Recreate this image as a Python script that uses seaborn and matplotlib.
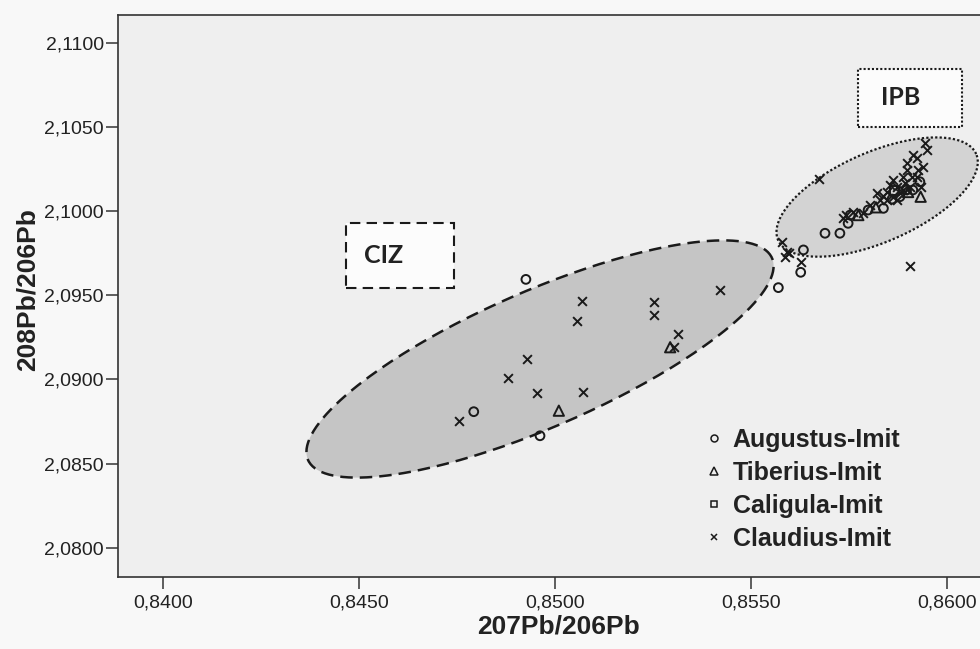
import numpy as np
import pandas as pd
import matplotlib
matplotlib.use("Agg")
import matplotlib.pyplot as plt
import seaborn as sns
from matplotlib import font_manager
from matplotlib.patches import Rectangle
from matplotlib.lines import Line2D

# ---------------- data ----------------
augustus_x = [0.84925, 0.84792, 0.84961, 0.85569, 0.85626, 0.85633, 0.85688, 0.85726,
              0.85747, 0.85752, 0.85798, 0.85837, 0.85896, 0.85912, 0.85930, 0.85879, 0.85859]
augustus_y = [2.09594, 2.08808, 2.08665, 2.09545, 2.09636, 2.09769, 2.09868, 2.09868,
              2.09927, 2.09976, 2.10006, 2.10016, 2.10125, 2.10125, 2.10174, 2.10085, 2.10071]

tiberius_x = [0.85009, 0.85293, 0.85932, 0.85773, 0.85818, 0.85900]
tiberius_y = [2.08814, 2.09191, 2.10085, 2.09976, 2.10022, 2.10113]

caligula_x = [0.85866]
caligula_y = [2.10124]

claudius_x = [0.85068, 0.85056, 0.84929, 0.84880, 0.84954, 0.85071, 0.84755, 0.85420,
              0.85253, 0.85253, 0.85314, 0.85303, 0.85578, 0.85590, 0.85597, 0.85586,
              0.85626, 0.85673, 0.85905, 0.85735, 0.85742, 0.85786, 0.85862, 0.85896,
              0.85913, 0.85922, 0.85939, 0.85943, 0.85947, 0.85896, 0.85888, 0.85820,
              0.85845, 0.85871, 0.85879, 0.85905, 0.85862, 0.85828, 0.85845, 0.85888,
              0.85854, 0.85909, 0.85922, 0.85803, 0.85872, 0.85892, 0.85926, 0.85759,
              0.85836, 0.85932]
claudius_y = [2.09464, 2.09349, 2.09119, 2.09010, 2.08917, 2.08925, 2.08753, 2.09531,
              2.09458, 2.09384, 2.09271, 2.09194, 2.09818, 2.09758, 2.09749, 2.09729,
              2.09695, 2.10192, 2.09674, 2.09957, 2.09976, 2.09987, 2.10184, 2.10244,
              2.10333, 2.10313, 2.10263, 2.10402, 2.10363, 2.10284, 2.10204, 2.10105,
              2.10115, 2.10145, 2.10105, 2.10145, 2.10085, 2.10066, 2.10066, 2.10125,
              2.10155, 2.10204, 2.10204, 2.10036, 2.10066, 2.10167, 2.10244, 2.09994,
              2.10089, 2.10143]

group_names = ["Augustus-Imit", "Tiberius-Imit", "Caligula-Imit", "Claudius-Imit"]

x_ticks = [0.8400, 0.8450, 0.8500, 0.8550, 0.8600]
x_tick_labels = ["0,8400", "0,8450", "0,8500", "0,8550", "0,8600"]
y_ticks = [2.0800, 2.0850, 2.0900, 2.0950, 2.1000, 2.1050, 2.1100]
y_tick_labels = ["2,0800", "2,0850", "2,0900", "2,0950", "2,1000", "2,1050", "2,1100"]

x_label = "207Pb/206Pb"
y_label = "208Pb/206Pb"

# group ellipses: centre (data)
ciz_center = (0.84961, 2.09121)
ipb_center = (0.85821, 2.10083)

# ---------------- styling ----------------
sns.set_theme(style="ticks")
avail = {f.name for f in font_manager.fontManager.ttflist}
narrow = "Liberation Sans Narrow" if "Liberation Sans Narrow" in avail else "Liberation Sans"
plt.rcParams["font.family"] = ["Liberation Sans", "DejaVu Sans"]

INK = "#1a1a1a"

fig = plt.figure(figsize=(9.8, 6.49), dpi=100, facecolor="#f8f8f8")
W, H = 980.0, 649.0
left, right, top, bottom = 117.7, 980.0, 14.7, 576.7
ax = fig.add_axes([left / W, 1 - bottom / H, (right - left) / W, (bottom - top) / H])
ax.set_facecolor("#efefef")
ax.set_xlim(0.838837, 0.860834)
ax.set_ylim(2.078277, 2.111664)


def ellipse_poly(center, a_px, b_px, ang_deg, n=300):
    t = np.linspace(0, 2 * np.pi, n)
    th = np.deg2rad(ang_deg)
    dx = a_px * np.cos(t) * np.cos(th) - b_px * np.sin(t) * np.sin(th)
    dy = a_px * np.cos(t) * np.sin(th) + b_px * np.sin(t) * np.cos(th)
    c = ax.transData.transform(center)
    return ax.transData.inverted().transform(np.column_stack([c[0] + dx, c[1] + dy]))


ciz = ellipse_poly(ciz_center, 253, 68, 23.5)
ax.fill(ciz[:, 0], ciz[:, 1], facecolor="#c5c5c5", edgecolor="none", zorder=1)
ax.plot(ciz[:, 0], ciz[:, 1], color=INK, lw=1.8, ls=(0, (5, 2.8)), zorder=2)

ipb = ellipse_poly(ipb_center, 108, 45, 23.5)
ax.fill(ipb[:, 0], ipb[:, 1], facecolor="#d3d3d3", edgecolor="none", zorder=1)
ax.plot(ipb[:, 0], ipb[:, 1], color=INK, lw=1.6, ls=(0, (1, 1)), zorder=2)

# ---------------- points ----------------
df = pd.concat([
    pd.DataFrame({"x": augustus_x, "y": augustus_y, "g": group_names[0]}),
    pd.DataFrame({"x": tiberius_x, "y": tiberius_y, "g": group_names[1]}),
    pd.DataFrame({"x": caligula_x, "y": caligula_y, "g": group_names[2]}),
    pd.DataFrame({"x": claudius_x, "y": claudius_y, "g": group_names[3]}),
], ignore_index=True)

open_markers = {group_names[0]: ("o", 40), group_names[1]: ("^", 55), group_names[2]: ("s", 40)}
for g, (m, s) in open_markers.items():
    sub = df[df.g == g]
    sns.scatterplot(data=sub, x="x", y="y", marker=m, s=s, facecolors="none",
                    edgecolor=INK, linewidth=1.4, ax=ax, zorder=4, legend=False)
sub = df[df.g == group_names[3]]
sns.scatterplot(data=sub, x="x", y="y", marker="x", s=40, color=INK,
                linewidth=1.4, ax=ax, zorder=4, legend=False)

# ---------------- labelled boxes ----------------
ax.add_patch(Rectangle((0.2648, 0.5137), 0.3900 - 0.2648, 0.6299 - 0.5137, transform=ax.transAxes,
                       facecolor="#fcfcfc", edgecolor=INK, lw=1.5, ls=(0, (5, 3)), zorder=5))
ax.text(0.3088, 0.5724, "CIZ", transform=ax.transAxes, ha="center", va="center",
        fontsize=18, fontweight="bold", family=["Lato", "DejaVu Sans"], color="#222", zorder=6)
ax.add_patch(Rectangle((0.8585, 0.8002), 0.9791 - 0.8585, 0.9034 - 0.8002, transform=ax.transAxes,
                       facecolor="#fcfcfc", edgecolor=INK, lw=1.5, ls=(0, (1, 1)), zorder=5))
ax.text(0.9083, 0.8518, "IPB", transform=ax.transAxes, ha="center", va="center",
        fontsize=18, fontweight="bold", family=["Lato", "DejaVu Sans"], color="#222", zorder=6)

# ---------------- axes ----------------
ax.set_xticks(x_ticks)
ax.set_xticklabels(x_tick_labels)
ax.set_yticks(y_ticks)
ax.set_yticklabels(y_tick_labels)
ax.tick_params(axis="both", direction="out", length=8.6, width=1.1, color="#333",
               labelsize=14, labelcolor="#222")
ax.tick_params(axis="y", pad=1.5)
ax.tick_params(axis="x", pad=4)
for sp in ["left", "top", "bottom"]:
    ax.spines[sp].set_color("#333")
    ax.spines[sp].set_linewidth(1.2)
ax.spines["right"].set_visible(False)

ax.set_xlabel(x_label, fontsize=19, fontweight="bold", family=[narrow, "DejaVu Sans"],
              color="#222", va="center")
ax.set_ylabel(y_label, fontsize=19, fontweight="bold", family=[narrow, "DejaVu Sans"],
              color="#222", va="center")
ax.xaxis.set_label_coords((558 - left) / (right - left), (bottom - 627) / (bottom - top))
ax.yaxis.set_label_coords((28 - left) / (right - left), (bottom - 290) / (bottom - top))

# ---------------- legend ----------------
handles = [
    Line2D([], [], ls="none", marker="o", mfc="none", mec=INK, ms=5, mew=1.1),
    Line2D([], [], ls="none", marker="^", mfc="none", mec=INK, ms=5.5, mew=1.1),
    Line2D([], [], ls="none", marker="s", mfc="none", mec=INK, ms=5, mew=1.1),
    Line2D([], [], ls="none", marker="x", color=INK, ms=5, mew=1.1),
]
leg = ax.legend(handles, group_names, loc="upper left",
                bbox_to_anchor=(706.5 / W, 1 - 428 / H), bbox_transform=fig.transFigure,
                frameon=False, borderpad=0, borderaxespad=0, handlelength=0.6,
                handletextpad=0.45, labelspacing=0.36,
                prop={"family": ["Liberation Sans", "DejaVu Sans"], "weight": "bold", "size": 18})
for t in leg.get_texts():
    t.set_color("#222")

fig.savefig("out.png", dpi=100, facecolor=fig.get_facecolor())
